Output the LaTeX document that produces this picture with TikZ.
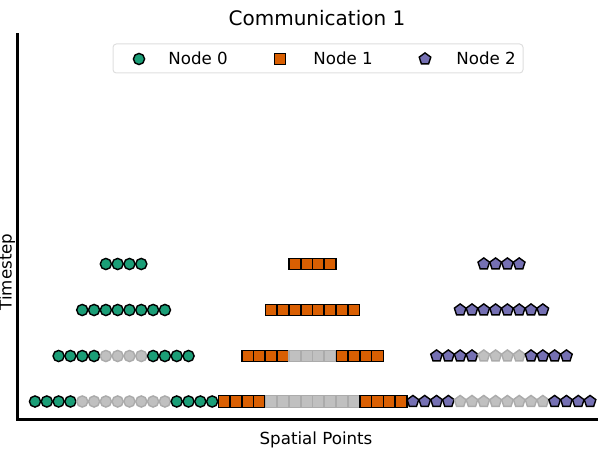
\documentclass[tikz,border=0pt]{standalone}
\usepackage{fontspec}
\setmainfont{DejaVu Sans}
\usetikzlibrary{shapes.geometric}
\definecolor{cA}{HTML}{1B9E77}
\definecolor{cB}{HTML}{D95F02}
\definecolor{cC}{HTML}{7570B3}
\definecolor{gyfill}{HTML}{C0C0C0}
\definecolor{gyedge}{HTML}{ABABAB}
\tikzset{
  base/.style={inner sep=0pt, outer sep=0pt, line width=0.85pt, draw=black},
  circm/.style={base, circle, minimum size=6.7pt, fill=cA},
  sqm/.style={base, rectangle, minimum width=6.9pt, minimum height=6.9pt, fill=cB},
  pentm/.style={base, regular polygon, regular polygon sides=5, minimum size=7.3pt, fill=cC},
  mk/.code={\ifcase#1 \tikzset{circm}\or \tikzset{sqm}\or \tikzset{pentm}\fi},
  gy/.code={\ifnum#1=1 \tikzset{fill=gyfill, draw=gyedge}\fi},
  spine/.style={line width=1.8pt, line cap=rect},
  lbl/.style={font=\fontsize{10}{12}\selectfont, inner sep=0pt}
}
\begin{document}
\begin{tikzpicture}[x=0.6pt, y=-0.6pt]
\useasboundingbox (0,0) rectangle (598,451);
% axes spines
\coordinate (top) at (17,35);
\coordinate (orig) at (17,419);
\coordinate (right) at (598,419);
\draw[spine] (top) -- (orig) -- (right);
% title and labels
\node[font=\fontsize{12}{14}\selectfont, inner sep=0pt] (title) at (317,18) {Communication 1};
\node[lbl] (xlab) at (316,440) {Spatial Points};
\node[lbl, rotate=90] (ylab) at (7,272) {Timestep};
% markers
\foreach \n in {0,1,2}{
  % level 0
  \foreach \r in {0,...,15}{
    \pgfmathtruncatemacro\g{and(\r>3,\r<12)}
    \node[mk=\n, gy=\g] (p\n-0-\r) at ({35+11.81*(16*\n+\r)},401.5) {};
  }
  % level 1
  \foreach \r in {2,...,13}{
    \pgfmathtruncatemacro\g{and(\r>5,\r<10)}
    \node[mk=\n, gy=\g] (p\n-1-\r) at ({35+11.81*(16*\n+\r)},356) {};
  }
  % level 2
  \foreach \r in {4,...,11}{
    \node[mk=\n] (p\n-2-\r) at ({35+11.81*(16*\n+\r)},310) {};
  }
  % level 3
  \foreach \r in {6,...,9}{
    \node[mk=\n] (p\n-3-\r) at ({35+11.81*(16*\n+\r)},264) {};
  }
}
% legend
\draw[draw=gray!25, line width=0.6pt, rounded corners=2pt, fill=white] (113,44) rectangle (523,73);
\node[mk=0] (l0) at (139,59) {};
\node[mk=1] (l1) at (280,59) {};
\node[mk=2] (l2) at (425,59) {};
\node[lbl, anchor=west] (t0) at (168,58) {Node 0};
\node[lbl, anchor=west] (t1) at (313,58) {Node 1};
\node[lbl, anchor=west] (t2) at (456,58) {Node 2};
\end{tikzpicture}
\end{document}
